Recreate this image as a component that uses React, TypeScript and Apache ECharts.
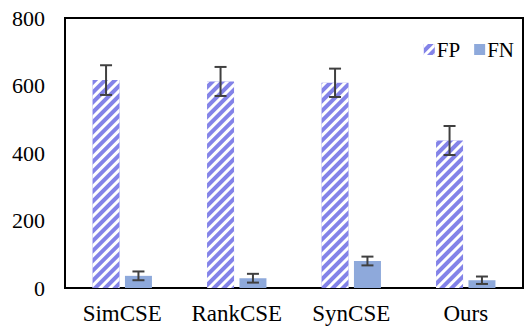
import React, { useEffect, useRef } from "react";
import * as echarts from "echarts";

const categories = ["SimCSE", "RankCSE", "SynCSE", "Ours"];
const fpValues = [616, 612, 608, 437];
const fpErrors = [44, 43, 42, 43];
const fnValues = [36, 29, 80, 23];
const fnErrors = [13, 13, 13, 11];
const yTicks = { min: 0, max: 800, interval: 200 };

const FONT = "'Times New Roman', 'Liberation Serif', serif";
const BAR_W = 27;
const OFFSET = 16.2;

function errorSeries(name: string, values: number[], errs: number[], dir: number) {
  return {
    name: name + "-err",
    type: "custom",
    z: 10,
    silent: true,
    data: values.map((v, i) => [i, v - errs[i], v + errs[i]]),
    renderItem: (params: any, api: any) => {
      const idx = api.value(0);
      const lo = api.coord([idx, api.value(1)]);
      const hi = api.coord([idx, api.value(2)]);
      const x = lo[0] + dir * OFFSET;
      const cap = 6;
      const style = { stroke: "#404040", lineWidth: 2 };
      return {
        type: "group",
        children: [
          { type: "line", shape: { x1: x, y1: lo[1], x2: x, y2: hi[1] }, style },
          { type: "line", shape: { x1: x - cap, y1: lo[1], x2: x + cap, y2: lo[1] }, style },
          { type: "line", shape: { x1: x - cap, y1: hi[1], x2: x + cap, y2: hi[1] }, style },
        ],
      };
    },
  };
}

export default function App() {
  const ref = useRef<HTMLDivElement>(null);
  useEffect(() => {
    if (!ref.current) return;
    const chart = echarts.init(ref.current, null, { renderer: "svg" });
    const decal = {
      symbol: "rect",
      symbolSize: 1,
      color: "#ffffff",
      dashArrayX: [1, 0],
      dashArrayY: [3, 4],
      rotation: -Math.PI / 4,
    };
    chart.setOption({
      animation: false,
      backgroundColor: "#ffffff",
      textStyle: { fontFamily: FONT },
      grid: {
        left: 65,
        right: 9,
        top: 18,
        bottom: 48,
        show: true,
        borderColor: "#000",
        borderWidth: 2,
        backgroundColor: "transparent",
      },
      legend: {
        right: 13,
        top: 34,
        itemWidth: 11,
        itemHeight: 11,
        itemGap: 14,
        textStyle: { fontFamily: FONT, fontSize: 21, color: "#000", padding: [0, 0, 0, -3] },
        data: [
          { name: "FP", icon: "rect" },
          { name: "FN", icon: "rect" },
        ],
      },
      xAxis: {
        type: "category",
        data: categories,
        axisLine: { show: true, lineStyle: { color: "#000", width: 2 } },
        axisTick: { show: false },
        axisLabel: { fontFamily: FONT, fontSize: 23, color: "#000", margin: 14, interval: 0 },
      },
      yAxis: {
        type: "value",
        min: yTicks.min,
        max: yTicks.max,
        interval: yTicks.interval,
        axisLine: { show: false },
        axisTick: { show: false },
        splitLine: { show: false },
        axisLabel: { fontFamily: FONT, fontSize: 22, color: "#000", margin: 20 },
      },
      series: [
        {
          name: "FP",
          type: "bar",
          data: fpValues,
          barWidth: BAR_W,
          barGap: "20%",
          itemStyle: { color: "#8383E8", decal },
        },
        {
          name: "FN",
          type: "bar",
          data: fnValues,
          barWidth: BAR_W,
          barGap: "20%",
          itemStyle: { color: "#8EA9DB" },
        },
        errorSeries("FP", fpValues, fpErrors, -1),
        errorSeries("FN", fnValues, fnErrors, 1),
      ],
    });
    return () => chart.dispose();
  }, []);
  return (
    <div
      ref={ref}
      style={{ position: "fixed", left: 0, top: 0, width: 532, height: 336 }}
    />
  );
}
